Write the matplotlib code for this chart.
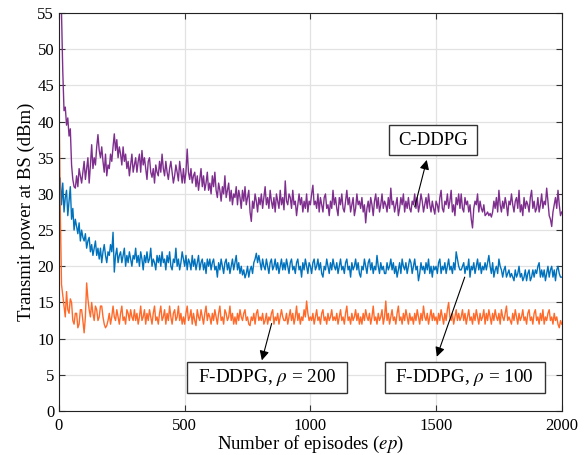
import numpy as np
import matplotlib
matplotlib.use("Agg")
import matplotlib.pyplot as plt
from matplotlib.patches import Rectangle

plt.rcParams['font.family'] = ['Liberation Serif', 'DejaVu Serif']
plt.rcParams['mathtext.fontset'] = 'stix'

episodes = np.arange(0, 2001, 5)

c_ddpg = [
    62, 58, 55, 47, 41.5, 42, 39.5, 40.5, 38, 39, 34, 32, 31, 30.8, 32.5, 31, 33.5, 32.5, 31.5, 33,
    34.5, 32, 33.5, 35, 31.5, 34, 36.8, 33.5, 35, 34, 36.5, 38.2, 36, 35, 36.5, 34.5, 33, 35.5, 32.5, 34,
    33.5, 35.5, 34.5, 36.5, 38.3, 36, 37.5, 35, 36.5, 35.5, 34, 36.5, 34.5, 35.5, 33.5, 34.5, 32.5, 34, 35.5, 33,
    34, 35, 33, 34.5, 35.5, 33, 36, 34, 35, 33.5, 32, 34.5, 35, 33, 32.3, 33.5, 31.5, 34, 33, 32.5,
    34.5, 33, 35.5, 33.5, 32.5, 34.5, 33, 32, 33.5, 34.5, 33, 31.5, 32.5, 34, 33, 31.8, 34.5, 33, 31.5, 33.5,
    31.5, 33, 36.2, 33, 32, 33.5, 31.5, 32.5, 33, 31, 32.5, 30.5, 32, 33.5, 31, 32.5, 30.5, 31.5, 33, 30.5,
    31.5, 30, 32.5, 31, 33, 30.5, 29.5, 31.5, 30.5, 29, 31, 30, 32.5, 29.5, 30.5, 31.5, 29, 30.5, 28.5, 30,
    29.5, 31, 28.5, 30.5, 29.5, 28, 30.5, 29, 31, 28.5, 29.5, 30.5, 27.5, 26.2, 29, 28, 30, 29, 27.5, 29.5,
    28.5, 30, 28, 29.5, 31, 28.5, 29.5, 28, 30.5, 29, 28, 29.5, 27.5, 30, 29, 28, 30.5, 28.5, 29.5, 27.8,
    31.8, 29, 28.5, 30, 29.5, 28, 30.5, 28.5, 29, 27, 28.5, 30, 28.5, 29.5, 27.5, 29, 28, 30, 27.5, 29,
    28.5, 30, 31.2, 28.5, 29, 28, 30, 27.5, 29.5, 28.5, 27.5, 29.5, 30, 28, 28.5, 27, 29, 28, 30.5, 28.5,
    29.5, 28, 27, 29.5, 28.5, 30, 28, 27.5, 29, 30.5, 28.5, 29.5, 27.5, 28.5, 29.5, 27, 28, 30, 28.5, 29,
    28, 29.5, 27.5, 28.5, 26, 28, 29, 27.5, 29.5, 28.5, 27, 29, 30, 28, 29.5, 27.5, 28.5, 30, 28, 29,
    28.5, 27.5, 29.5, 28, 30.8, 28.5, 29, 27.5, 28.5, 29.5, 27, 28, 29.5, 28.5, 30, 27.5, 29, 28, 29.5, 28,
    27.5, 29, 28.5, 30, 28, 29.5, 27.5, 28.5, 30, 29, 27.5, 28.5, 29.5, 28, 30, 28.5, 27.5, 29, 28, 27.2,
    29, 28.5, 27.5, 29.5, 30.5, 28, 27.5, 29, 28.5, 30, 28, 29, 30.5, 27.5, 28.5, 27, 29.5, 28.5, 30, 28,
    30, 28, 27.5, 29.5, 28.5, 29, 27.5, 28.5, 26.5, 25.3, 28, 29, 28.5, 30, 27.5, 29, 28, 27.5, 28.5, 27,
    27.2, 27.5, 27, 27.3, 26.8, 27.5, 29, 28, 29.5, 27.5, 30.5, 28.5, 27.5, 29, 28, 29.5, 28.5, 27, 29, 28.5,
    30, 28.5, 27.5, 29, 29.5, 28, 30.5, 27.5, 28.5, 27, 29.5, 28, 29, 28.5, 27.5, 29.5, 30.5, 28, 29, 27.5,
    28, 29.5, 27.5, 28.5, 30, 28, 29, 28.5, 30.8, 29, 27, 26.5, 25.5, 27.5, 28.5, 29.5, 28, 30.5, 28.5, 27,
    27.5,
]

f_ddpg_100 = [
    30, 32.2, 28.5, 31.5, 27.5, 29.5, 30.5, 27, 29, 31, 26.5, 28, 25, 26.5, 25.5, 24.5, 26, 23.5, 25, 24,
    23.5, 24.5, 22.5, 23.5, 24, 22, 23, 21.5, 22.5, 23.5, 21.5, 22.5, 21, 22.5, 20.5, 22, 23, 21.5, 20.5, 22,
    21.5, 23, 22, 24.7, 19.2, 21.5, 22.5, 20.5, 21.5, 22, 20.5, 21.5, 22.5, 20, 21.5, 20.5, 22, 21, 20, 21.5,
    21, 22.5, 20.5, 21.5, 20, 22, 21, 19.5, 21.5, 20.5, 22, 20.5, 21, 22.5, 20, 21, 20.5, 19.5, 21.5, 20.5,
    21.5, 20, 22, 20.5, 21, 19.5, 21.5, 20.5, 22, 20, 19.5, 21, 20.5, 22.5, 20, 21, 19.5, 20.5, 22, 21,
    20, 21.5, 19.5, 21, 20.5, 19.5, 21.5, 20, 21, 19.5, 20.5, 21.5, 19.5, 20.5, 21, 19.5, 20.5, 19, 21, 20,
    21, 19.5, 20.5, 21, 19.5, 20, 18.5, 20.5, 19.5, 21, 20, 19, 20.5, 21, 19.5, 20.5, 19, 20, 21, 19.5,
    20.5, 21.5, 19.5, 20.5, 19, 20, 18.8, 19.5, 18.4, 19, 20, 18.5, 19.5, 20, 19, 20.5, 21, 21.8, 20.5, 21.5,
    20.5, 19.5, 21, 20, 19.5, 21, 20, 19, 20.5, 21, 19.5, 20, 21, 19.5, 20.5, 19, 20, 21, 19.5, 20.5,
    19.5, 21, 20, 19, 20.5, 21, 19.5, 20, 19, 20.5, 21, 19.5, 20, 18.5, 20.5, 19.5, 21, 20, 19, 20.5,
    20, 19, 20.5, 21, 19.5, 20, 21, 19.5, 20.5, 19, 18.5, 20, 19.5, 21, 20, 19, 20.5, 19.5, 21, 20,
    19.5, 20.5, 19, 20, 21, 19.5, 20, 19, 20.5, 21, 19.5, 20, 18.5, 20.5, 19.5, 20, 21, 19.5, 20.5, 19,
    18.5, 20, 19.5, 21, 20, 19, 20.5, 21, 19.5, 20.5, 19, 20, 19.5, 21.5, 20, 19, 20.5, 19.5, 20, 19,
    19, 20.5, 19.5, 20, 21, 19.5, 20.5, 19, 20, 18.5, 19.5, 20.5, 19, 21, 20, 19.5, 20.5, 19, 20, 21,
    20.5, 19, 20, 21, 19.5, 20, 18, 19, 20.5, 19.5, 20, 19, 20.5, 19.5, 21, 19, 20, 18.5, 20, 19.5,
    20, 19, 20.5, 21, 19, 20, 19.5, 20.5, 19, 20, 21, 19.5, 20, 19, 20.5, 19.5, 22, 21, 20, 19.5,
    19.5, 20, 20.5, 19, 20, 19.5, 21, 18.5, 20, 19.5, 20.5, 19, 20, 21, 19.5, 20.5, 19, 20, 19.5, 20.5,
    19.5, 20.5, 21.5, 20, 19, 20.5, 18.5, 19.5, 20, 19, 21, 20, 19.5, 18.5, 19.5, 20, 18.5, 19, 19.5, 18.5,
    19, 18.5, 18, 19.5, 18.5, 19, 20, 18.5, 19, 18, 18.5, 19.5, 18, 19, 19.5, 18, 18.5, 19.5, 18.5, 19.5,
    19, 20, 20.5, 18.5, 19.5, 18.5, 19.5, 18, 19, 20, 18.5, 19.5, 20, 18.5, 19.5, 18, 19.5, 20, 19, 18.5,
    18.5,
]

f_ddpg_200 = [
    43, 28, 17.5, 16, 14.5, 13, 16.5, 14, 13.5, 15.5, 15, 12.5, 12, 13.5, 13.5, 11.5, 12, 14, 14, 12.5,
    10.8, 13, 17.7, 15.5, 14, 13, 15, 13.5, 12.5, 14.5, 14, 12.5, 13, 14.5, 14.5, 13, 12, 11.5, 11.8, 12.5,
    13.5, 12, 13, 14.5, 13, 12.5, 14, 13, 12, 13.5, 14.5, 12.5, 13, 12, 14, 13.5, 12.5, 14, 13, 12.5,
    14, 12.5, 13.5, 12, 13, 14.5, 12.5, 13, 14, 12, 13.5, 12.5, 14, 13, 12, 13.5, 14.5, 12.5, 13, 12,
    13.5, 14.5, 12.5, 13, 14, 12, 13.5, 12.5, 14.5, 13, 12, 13.5, 14, 12.5, 13, 14.5, 12.5, 13.5, 12, 13,
    12, 13.5, 14.5, 12.5, 13, 14, 12, 13.5, 12.5, 11.8, 14, 13, 12.5, 14, 13, 12, 13.5, 14.5, 12.5, 13.5,
    13, 12, 13.5, 12.5, 14, 13, 12, 13.5, 14.5, 12.5, 13, 12, 14, 13.5, 12.5, 13, 14.5, 12.5, 13.5, 12,
    13, 12, 13.5, 12.5, 14, 13, 12.5, 13.5, 14, 12.5, 13, 12, 11.8, 13, 12.5, 13.5, 12, 13.5, 14, 12.5,
    13, 12.5, 13.5, 12, 12.5, 13.5, 12, 13, 12.5, 13.5, 14, 12, 13, 12.5, 13.5, 12, 13, 14, 13, 12.5,
    12.5, 13.5, 12, 13, 14, 12.5, 13.5, 12, 13, 14.5, 12.5, 13.5, 12, 13, 12.5, 14, 13, 15.2, 13.5, 12.5,
    13, 12.5, 13.5, 12, 13, 14, 12.5, 13, 12, 13.5, 14, 12.5, 13, 12, 13.5, 12.5, 13, 14, 12.5, 13,
    12.5, 13.5, 12, 13, 14, 12.5, 13, 12, 13.5, 14.5, 12.5, 13, 12, 13.5, 12.5, 13, 14, 12.5, 13.5, 12,
    13, 12, 13.5, 12.5, 14, 13, 12.5, 13.5, 12, 13, 14.5, 12.5, 13, 12, 13.5, 12.5, 13, 14, 12, 13,
    15.2, 12.5, 13.5, 12, 13, 14, 12.5, 13, 12, 13.5, 14.5, 12.5, 13, 12, 13.5, 12.5, 14, 13, 12, 13.5,
    12.5, 13, 12, 13.5, 12.5, 14, 13, 12, 13.5, 12.5, 14.5, 13, 12.5, 13.5, 12, 13, 14, 12.5, 13.5, 12.5,
    13, 12, 13.5, 12.5, 14, 13, 12, 13.5, 12.5, 14, 15, 13, 12.5, 13.5, 12, 13, 14, 12.5, 13.5, 12.5,
    13, 14, 12.5, 13.5, 12, 13, 14, 12.5, 13, 12, 13.5, 12.5, 14, 13, 12, 13.5, 12.5, 13, 14, 12,
    13.5, 12.5, 14, 13, 12, 13.5, 12.5, 14, 13, 12.5, 13.5, 12, 14, 13, 12.5, 13.5, 14.5, 12.5, 13, 12.5,
    12, 13.5, 12.5, 14, 13, 12, 13.5, 12.5, 13, 14, 12.5, 13, 12, 13.5, 14, 12.5, 13, 12, 13.5, 14,
    12.5, 13, 12, 13.5, 12.5, 14, 12, 13, 12.5, 13.5, 14, 12.5, 13, 12, 13.5, 12.5, 13, 12, 11.5, 12.5,
    12,
]

x_ticks = [0, 500, 1000, 1500, 2000]
y_ticks = list(range(0, 56, 5))

fig = plt.figure(figsize=(5.87, 4.55), dpi=100)
ax = fig.add_axes([0.1005, 0.0967, 0.8565, 0.8747])

ax.plot(episodes, c_ddpg, color='#7E2F8E', lw=1.0)
ax.plot(episodes, f_ddpg_100, color='#0072BD', lw=1.0)
ax.plot(episodes, f_ddpg_200, color='#FF6A2A', lw=1.0)

ax.set_xlim(0, 2000)
ax.set_ylim(0, 55)
ax.set_xticks(x_ticks)
ax.set_yticks(y_ticks)
ax.grid(True, color='#e2e2e2', lw=0.9)
ax.set_axisbelow(True)
ax.tick_params(direction='in', top=True, right=True, labelsize=12, length=4, color='#333333')
ax.tick_params(axis='x', pad=5)
for s in ax.spines.values():
    s.set_color('#222222')
    s.set_linewidth(0.8)

ax.set_xlabel('Number of episodes ($\\mathit{ep}$)', fontsize=13.5, labelpad=0)
ax.set_ylabel('Transmit power at BS (dBm)', fontsize=13.5, labelpad=2)

ap = dict(arrowstyle='-|>', color='k', lw=0.8, mutation_scale=14, shrinkA=0, shrinkB=0)


def label_box(x0, x1, y0, y1, text, fs):
    ax.add_patch(Rectangle((x0, y0), x1 - x0, y1 - y0, fc='white', ec='#333333', lw=1.0, zorder=5))
    ax.text((x0 + x1) / 2, (y0 + y1) / 2, text, fontsize=fs, ha='center', va='center', zorder=6)


ax.annotate('', xy=(1463, 34.7), xytext=(1415, 28.2), arrowprops=ap, zorder=7)
label_box(1312, 1662, 35.4, 39.5, 'C-DDPG', 13.5)

ax.annotate('', xy=(1503, 7.5), xytext=(1614, 18.5), arrowprops=ap, zorder=7)
label_box(1296, 1932, 2.5, 6.8, 'F-DDPG, $\\rho$ = 100', 13.8)

ax.annotate('', xy=(807, 7.0), xytext=(846, 12.1), arrowprops=ap, zorder=7)
label_box(509, 1145, 2.5, 6.8, 'F-DDPG, $\\rho$ = 200', 13.8)

fig.savefig('out.png', dpi=100)
